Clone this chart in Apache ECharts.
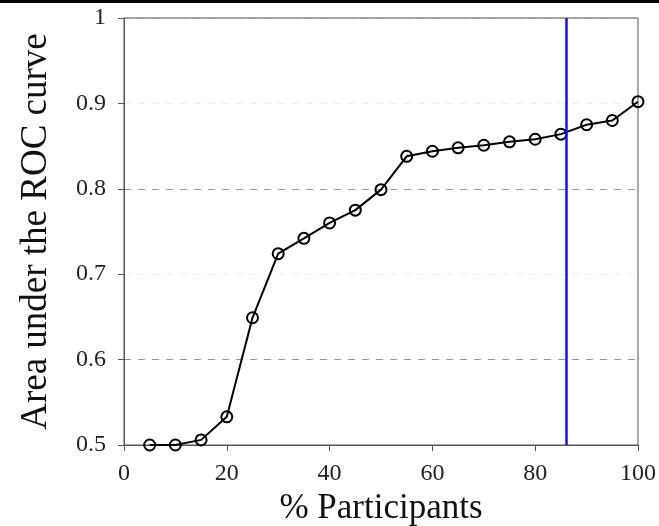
<!DOCTYPE html>
<html lang="en">
<head>
    <meta charset="UTF-8">
    <title>AUC vs participants</title>
    <script src="https://cdn.jsdelivr.net/npm/echarts@6/dist/echarts.min.js"></script>
    <style>
        html, body { margin: 0; padding: 0; background: #fff; }
    </style>
</head>
<body>
    <div id="myChart" style="width: 659px; height: 526px;"></div>
    <script>
        // 数据
        const participants = [5, 10, 15, 20, 25, 30, 35, 40, 45, 50, 55, 60, 65, 70, 75, 80, 85, 90, 95, 100];
        const auc = [0.500, 0.500, 0.506, 0.533, 0.649, 0.724, 0.742, 0.760, 0.775, 0.799,
                     0.838, 0.844, 0.848, 0.851, 0.855, 0.858, 0.864, 0.875, 0.880, 0.902];
        const markerX = 86;

        var myChart = echarts.init(document.getElementById('myChart'));
        var font = 'Liberation Serif';

        option = {
            backgroundColor: '#fff',
            animation: false,
            grid: {
                left: 124, right: 21, top: 18, bottom: 81,
                outerBoundsMode: 'none', containLabel: false,
                show: true, borderColor: '#555', borderWidth: 1
            },
            // 扫描件顶部的黑边
            graphic: [
                { type: 'rect', shape: { x: 0, y: 0, width: 659, height: 3 }, style: { fill: '#000' } }
            ],
            xAxis: {
                type: 'value', min: 0, max: 100, interval: 20,
                name: '% Participants', nameLocation: 'middle', nameGap: 40,
                nameTextStyle: { fontFamily: font, fontSize: 35, color: '#111' },
                axisLine: { lineStyle: { color: '#555' } },
                axisTick: { show: true, length: 6, lineStyle: { color: '#555' } },
                axisLabel: { fontFamily: font, fontSize: 24, color: '#222', margin: 17 },
                splitLine: { show: false }
            },
            yAxis: {
                type: 'value', min: 0.5, max: 1, interval: 0.1,
                name: 'Area under the ROC curve', nameLocation: 'middle', nameGap: 69,
                nameTextStyle: { fontFamily: font, fontSize: 37, color: '#111' },
                axisLine: { show: true, lineStyle: { color: '#555' } },
                axisTick: { show: true, length: 6, lineStyle: { color: '#555' } },
                axisLabel: {
                    fontFamily: font, fontSize: 24, color: '#222', margin: 18,
                    formatter: function (v) { return v === 1 ? '1' : v.toFixed(1); }
                },
                splitLine: { show: true, lineStyle: { color: ['#eeeeee', '#9a9a9a'], type: [7, 7], width: 1 } }
            },
            series: [
                {
                    type: 'line',
                    data: participants.map(function (p, i) { return [p, auc[i]]; }),
                    symbol: 'circle', symbolSize: 11,
                    itemStyle: { color: 'rgba(255,255,255,0)', borderColor: '#000', borderWidth: 2 },
                    lineStyle: { color: '#000', width: 2 },
                    markLine: {
                        silent: true, symbol: 'none', label: { show: false },
                        lineStyle: { color: '#1010ff', width: 2.5, type: 'solid' },
                        data: [{ xAxis: markerX }]
                    },
                    z: 3
                }
            ]
        };
        myChart.setOption(option);
    </script>
</body>
</html>
